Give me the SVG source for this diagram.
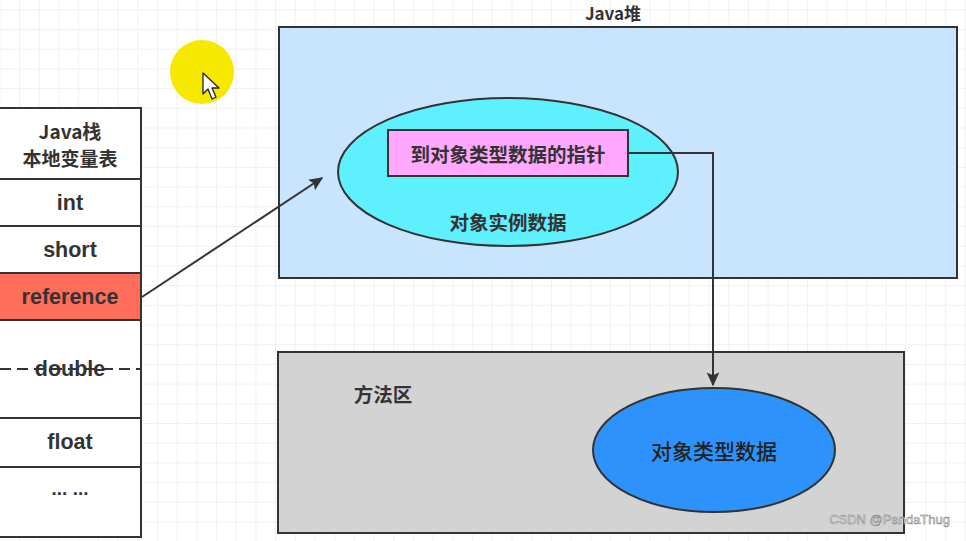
<svg xmlns="http://www.w3.org/2000/svg" width="966" height="541" viewBox="0 0 966 541">
<defs>
<pattern id="grid" width="19.7" height="19.7" patternUnits="userSpaceOnUse" x="0.3" y="10.3">
<path d="M19.7 0V19.7M0 19.7H19.7" fill="none" stroke="#e3e3e3" stroke-width="1"/>
</pattern>
<marker id="ah2" viewBox="0 0 10 10" refX="9" refY="5" markerWidth="14" markerHeight="14" markerUnits="userSpaceOnUse" orient="auto">
<path d="M0 0.5L10 5L0 9.5L2 5Z" fill="#333"/>
</marker>
</defs>
<style>
.t{font-family:"Liberation Sans","Noto Sans CJK SC",sans-serif;font-weight:bold;fill:#333;text-anchor:middle;dominant-baseline:central}
.c{font-family:"Noto Sans CJK SC","Liberation Sans",sans-serif;font-weight:bold;fill:#333;text-anchor:middle;dominant-baseline:central}
.n{font-weight:500;fill:#222}
.box{stroke:#333;stroke-width:2}
.cell{fill:#fff;stroke:#333;stroke-width:2}
.ln{fill:none;stroke:#333;stroke-width:2}
</style>
<rect width="966" height="541" fill="#fff"/>
<rect width="966" height="541" fill="url(#grid)"/>

<g id="cursor">
<circle cx="202" cy="72" r="32" fill="#f7e800"/>
<path d="M203 73L203 94L208 89L212 99L216 97L212 88L219 88Z" fill="#fff" stroke="#222" stroke-width="1.3" stroke-linejoin="round"/>
</g>

<g id="java-heap">
<rect class="box" x="279" y="27" width="678" height="251" fill="#c9e4fd"/>
<text class="c" x="613" y="12" font-size="17">Java堆</text>
</g>

<g id="instance-data">
<ellipse cx="508" cy="172" rx="170" ry="74" fill="#5ef1fd" stroke="#333" stroke-width="2"/>
<text class="c" x="508" y="221" font-size="19.5">对象实例数据</text>
</g>

<g id="pointer">
<rect class="box" x="388" y="130" width="240" height="46" fill="#ffa8fd"/>
<text class="c" x="508" y="153" font-size="19.5">到对象类型数据的指针</text>
</g>

<g id="method-area">
<rect class="box" x="278" y="352" width="626" height="181" fill="#d3d3d3"/>
<text class="c" x="383" y="393" font-size="19.5">方法区</text>
</g>

<g id="type-data">
<ellipse cx="714" cy="450" rx="121" ry="62" fill="#2d92fb" stroke="#333" stroke-width="2"/>
<text class="c n" x="714" y="450" font-size="21">对象类型数据</text>
</g>

<g id="java-stack">
<rect class="cell" x="-2" y="108" width="143" height="71"/>
<text class="c" x="70" y="130" font-size="19">Java栈</text>
<text class="c" x="70" y="157" font-size="19">本地变量表</text>
<rect class="cell" x="-2" y="179" width="143" height="47"/>
<text class="t" x="70" y="203" font-size="21.5">int</text>
<rect class="cell" x="-2" y="226" width="143" height="47"/>
<text class="t" x="70" y="250" font-size="21.5">short</text>
<rect class="box" x="-2" y="273" width="143" height="47" fill="#fe6e5b"/>
<text class="t" x="70" y="297" font-size="21.5">reference</text>
<rect class="cell" x="-2" y="320" width="143" height="98"/>
<text class="t" x="70" y="369" font-size="21.5">double</text>
<line x1="0" y1="369" x2="141" y2="369" stroke="#333" stroke-width="2" stroke-dasharray="11,6"/>
<rect class="cell" x="-2" y="418" width="143" height="49"/>
<text class="t" x="70" y="442" font-size="21.5">float</text>
<rect class="cell" x="-2" y="467" width="143" height="70"/>
<text class="t" x="70" y="488" font-size="19">... ...</text>
</g>

<g id="connectors">
<line class="ln" x1="142" y1="297" x2="322" y2="178" marker-end="url(#ah2)"/>
<polyline class="ln" points="628,153 713,153 713,385" marker-end="url(#ah2)"/>
</g>

<text x="950" y="524" font-family="Liberation Sans,sans-serif" font-size="13" fill="#f2f2f2" stroke="#7a7a7a" stroke-width="0.5" text-anchor="end">CSDN @PandaThug</text>
</svg>
